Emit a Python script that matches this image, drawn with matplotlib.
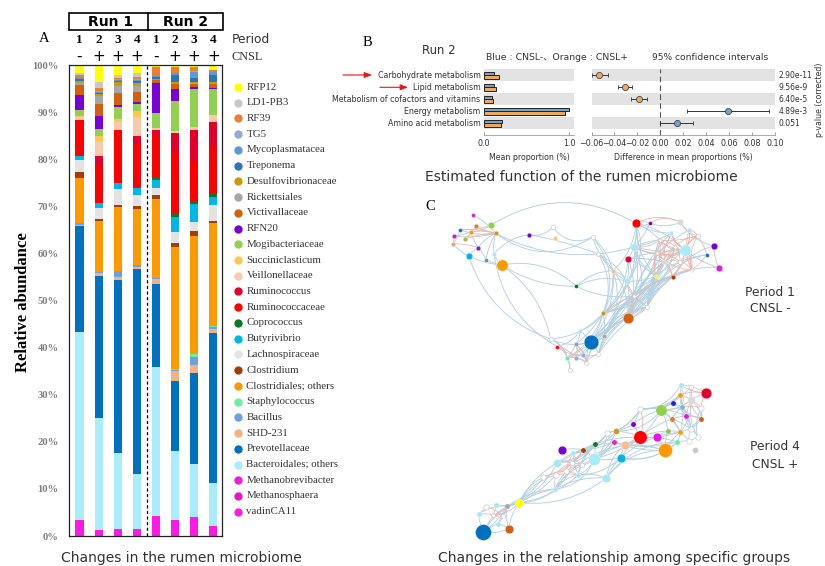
import numpy as np
import matplotlib
matplotlib.use("Agg")
import matplotlib.pyplot as plt
from matplotlib.path import Path
from matplotlib.patches import PathPatch, Rectangle

W, H = 825, 566
SERIF = "Liberation Serif"
SANS = ["DejaVu Sans", "Noto Sans CJK JP"]
plt.rcParams["font.family"] = SANS

# ---------- Panel A data ----------
series = ["vadinCA11", "Methanosphaera", "Methanobrevibacter", "Bacteroidales; others", "Prevotellaceae",
          "SHD-231", "Bacillus", "Staphylococcus", "Clostridiales; others", "Clostridium", "Lachnospiraceae",
          "Butyrivibrio", "Coprococcus", "Ruminococcaceae", "Ruminococcus", "Veillonellaceae", "Succiniclasticum",
          "Mogibacteriaceae", "RFN20", "Victivallaceae", "Rickettsiales", "Desulfovibrionaceae", "Treponema",
          "Mycoplasmatacea", "TG5", "RF39", "LD1-PB3", "RFP12"]
series_colors = ["#ff19e6", "#e815d0", "#f01ae0", "#a9ecfb", "#0070c0", "#f4b183", "#6fa0dc", "#66f0a0", "#ff9900",
                 "#a33e0b", "#e3e3e3", "#00b8e6", "#0a7a28", "#ff0000", "#e3002b", "#f9c9ac", "#ffc84a", "#92d050",
                 "#7a00d6", "#d2600f", "#a6a6a6", "#c99a0e", "#2e75b6", "#5b9bd5", "#8faadc", "#ed7d31", "#c8c8c8",
                 "#ffff00"]
# cumulative upper edge of every layer, bottom to top
run1_p1 = [3.3, 3.3, 3.3, 43.3, 65.8, 66.1, 66.4, 66.5, 76.0, 77.3, 79.9, 80.8, 80.8, 88.4, 88.4, 89.0, 89.3, 90.5, 93.7, 95.8, 96.2, 96.7, 97.1, 97.2, 97.3, 98.0, 98.3, 100]
run1_p2 = [1.2, 1.2, 1.2, 25.0, 55.2, 55.9, 56.0, 56.0, 67.0, 67.3, 69.7, 70.8, 70.8, 78.8, 80.8, 84.0, 84.9, 86.4, 89.2, 91.8, 93.5, 94.0, 94.1, 94.3, 94.5, 95.2, 96.4, 100]
run1_p3 = [1.5, 1.5, 1.5, 17.6, 54.4, 55.1, 56.2, 56.3, 70.0, 70.3, 73.8, 75.0, 75.0, 86.3, 86.3, 88.0, 88.6, 91.2, 91.5, 94.1, 95.7, 96.5, 96.7, 96.9, 97.0, 97.3, 97.9, 100]
run1_p4 = [1.5, 1.5, 1.5, 13.2, 56.7, 57.1, 57.5, 57.5, 69.4, 70.2, 72.4, 73.9, 73.9, 83.5, 85.0, 89.0, 90.2, 91.8, 92.2, 94.3, 95.5, 96.3, 96.6, 96.9, 97.0, 97.6, 98.3, 100]
run2_p1 = [4.2, 4.2, 4.2, 35.8, 53.6, 54.7, 54.8, 54.8, 71.7, 72.4, 73.9, 75.6, 76.2, 85.0, 86.2, 86.6, 86.6, 89.9, 96.2, 96.8, 96.9, 97.0, 97.6, 97.7, 97.7, 99.6, 99.6, 100]
run2_p2 = [3.5, 3.5, 3.5, 18.0, 33.0, 35.0, 35.2, 35.5, 61.3, 62.2, 64.6, 67.7, 68.6, 81.6, 85.6, 86.1, 86.1, 92.4, 95.0, 96.0, 96.1, 96.5, 98.0, 98.4, 98.4, 99.6, 99.6, 100]
run2_p3 = [4.1, 4.1, 4.1, 15.3, 34.7, 36.4, 38.0, 38.6, 63.8, 64.7, 66.7, 70.5, 71.2, 79.5, 86.2, 86.9, 86.9, 95.0, 95.3, 96.1, 96.2, 96.5, 97.3, 98.6, 98.7, 99.7, 99.7, 100]
run2_p4 = [2.2, 2.2, 2.2, 11.3, 43.2, 44.0, 44.4, 44.6, 66.6, 67.0, 70.3, 72.1, 72.6, 82.9, 87.9, 89.4, 89.4, 94.9, 95.2, 96.1, 96.1, 96.5, 98.0, 98.5, 98.6, 99.0, 99.0, 100]
periods = ["1", "2", "3", "4", "1", "2", "3", "4"]
cnsl = ["-", "+", "+", "+", "-", "+", "+", "+"]

# ---------- Panel B data ----------
functions = ["Carbohydrate metabolism", "Lipid metabolism", "Metabolism of cofactors and vitamins",
             "Energy metabolism", "Amino acid metabolism"]
mean_minus = [0.12, 0.12, 0.09, 1.00, 0.21]
mean_plus = [0.18, 0.145, 0.105, 0.95, 0.20]
diff = [-0.0532, -0.0311, -0.0183, 0.0587, 0.0142]
ci_low = [-0.0593, -0.0366, -0.0253, 0.0232, 0.0]
ci_high = [-0.0459, -0.0250, -0.0113, 0.0947, 0.0288]
pvalues = ["2.90e-11", "9.56e-9", "6.40e-5", "4.89e-3", "0.051"]

# ---------- Panel C data (layout positions of the two networks) ----------
W_ = "#ffffff"
net1_x = [128,138,182,90,122,197,72,105,69,145,116,168,192,215,297,368,374,488,505,439,549,618,659,751,723,778,612,765,851,830,594,703,866,591,678,728,593,519,482,522,449,437,382,362,412,438,459,469,505,419,652,612,750,803,785,690,735,680]
net1_y = [74,107,106,119,125,130,138,148,162,173,198,209,192,225,134,111,143,141,192,289,242,100,100,97,129,119,171,180,168,194,207,217,233,274,259,260,384,370,456,439,424,463,470,447,503,505,495,518,492,540,350,318,215,138,240,150,170,190]
net1_r = [6,7,10,6,7,7,7,7,7,7,10,6,7,17,7,7,7,7,6,6,6,13,6,10,7,7,11,17,10,6,10,6,10,10,6,7,16,7,22,7,7,7,6,6,7,7,7,6,6,6,6,5,6,6,5,5,5,5]
net1_c = ["#e020c8","#e07b30","#8fd14f","#1f6fb8","#f39c12","#c99a1a","#c026b8","#9bbb59","#e8a87c","#7a1fc7","#00b5e2","#5b8fc7","#a8e8f5","#ff9900","#7a00d6",W_,"#fcc57a",W_,W_,"#0a7a28","#f5b979","#ff0000","#7a00d6","#d9d9d9","#a8e8f5","#a8e8f5","#a8e8f5","#a8ecf8","#7a00d6","#1f6fb8","#e3002b","#a8e8f5","#e020c8","#a8e8f5","#ffff00","#a33e0b","#d2600f","#c99a1a","#0070c0","#a6a6a6","#a8e8f5","#8c9fd0","#ff0000",W_,"#66f09a","#85aee8","#85aee8",W_,W_,W_,W_,W_,W_,W_,W_,W_,W_,W_]
net1_blue = [(2,21,.3),(5,17,-.34),(5,26,-.2),(14,15,-.3),(15,17,-.4),(14,18,.05),(12,14,.2),(13,19,.25),(13,19,-.15),(10,43,-.25),(13,43,.2),(12,42,-.25),(19,33,.2),(19,20,.2),(19,51,-.15),(10,13,-.1),(20,21,-.2),(18,33,.15),(17,33,-.2),(20,36,.2),(21,26,.1),(26,33,.2),(33,37,.15),(33,36,.1),(37,38,.1),(36,38,-.1),(36,39,-.15),(37,39,.1),(34,36,.2),(34,33,.1),(26,34,-.2),(21,34,-.2),(30,34,.1),(30,33,.1),(35,36,-.2),(35,50,-.1),(50,48,-.2),(54,36,-.2),(50,39,-.2),(51,37,.1),(36,48,-.2),(35,39,-.25),(54,48,-.3),(34,38,.1),(20,37,.15),(20,33,.2),(26,51,.15),(21,27,.15),(26,27,-.1),
             (24,36,-.15),(24,37,.2),(25,36,-.25),(27,36,-.25),(27,50,-.2),(29,36,-.3),(29,50,-.3),(28,35,-.2),(32,54,-.1),(28,32,-.1),(32,27,.1),(23,28,-.2),(22,26,.1),(22,23,-.2),(21,24,-.15),(21,22,-.3),(21,55,.1),(26,55,.1),(26,24,-.1),(26,57,-.1),(30,31,.1),(30,57,.1),(34,37,.2),(34,50,-.1),(35,37,.15),(35,51,-.15),(31,36,-.2),(31,50,-.2),(31,37,.25),(31,51,.2),(55,36,.25),(57,36,.2),(57,51,.15),(55,51,.15),(56,36,.2),(56,50,-.1),(52,50,-.2),(54,50,-.25),(33,50,-.2),(33,38,.15),(26,36,.3),(30,36,.2),(30,37,.2),(21,37,.3),(21,33,.3),(21,30,.2),(20,38,.2),(20,39,.25),(18,37,.25),(17,37,.3),(18,20,.1),(17,20,.15),(50,38,-.2),(50,48,-.1),(36,47,-.25),(35,48,-.3),(34,39,-.15),(51,39,-.15),(51,38,.1),(37,40,.15),(37,41,.1),(37,43,.2),(37,44,.2),(39,47,-.2),(39,46,-.1),(38,47,-.1),(38,45,.1),(38,44,.1),(41,44,.1),(42,44,.2),(41,47,.25),(43,44,.25),(43,49,.3),(44,49,.2),(40,42,.2),(38,43,.2),(40,48,.2),(40,41,.2),
             (3,5,-.15),(4,6,.1),(2,4,.15),(1,7,.1),(3,8,.1),(6,8,.1),(0,5,.1),(9,11,.1),(10,9,.1),(9,5,.15),(11,5,.1),(12,5,.1),(10,8,.1),(9,4,.1),(13,11,.1),(13,12,.15)]
net1_red = [(1,5,-.1),(2,3,.1),(3,5,.1),(4,5,.1),(4,7,.15),(6,5,-.1),(7,5,.1),(8,9,.1),(27,24,.2),(27,31,-.2),(27,52,.2),(27,25,-.2),(27,35,.2),(27,55,.2),(27,56,.2),(27,57,.2),(27,53,.2),(27,54,.15),(24,57,.2),(55,57,-.2),(55,31,.2),(57,31,-.2),(57,35,.2),(56,52,.2),(56,54,.2),(53,54,-.2),(53,55,.1),(25,54,-.2),(52,35,.2),(34,57,.2),(34,55,.2),(23,53,-.2),(33,51,-.2),(51,36,.2),(36,50,-.2),(37,51,.1),(38,41,.1),(41,45,.2),(41,47,.2),(41,46,-.2),(42,45,.2),(42,46,-.2),(44,47,.2),(45,47,.2),(46,48,-.2),(46,47,.1),(44,46,.1),(47,48,.2),(36,35,.3),
            (56,57,.2),(56,31,.2),(56,53,.2),(57,52,.2),(57,54,-.2),(31,52,.2),(31,35,.1),(55,56,.2),(24,56,.2),(24,27,-.2),(25,27,.2),(25,53,.2),(53,29,.1),(52,54,.2),(29,54,.1),(35,54,.2),(26,55,-.2),(26,57,-.15),(34,31,.1),(34,56,.15),(55,27,-.3),(57,27,-.3),(53,27,-.2),(54,27,-.3),(21,23,.25),(21,22,.35),(22,23,.3)]

net2_x = [70,147,178,142,107,77,56,100,128,114,285,250,287,319,355,292,340,306,369,335,365,403,404,439,482,461,442,469,494,519,540,540,591,616,604,623,636,638,661,652,665,679,660,662,693,694,737,724,724,692,713,686,705]
net2_y = [487,476,398,409,406,410,433,436,437,462,357,322,315,304,315,278,250,240,239,280,286,267,222,324,263,217,189,183,225,163,117,202,200,241,119,183,147,100,186,216,111,138,75,45,50,90,69,113,146,178,200,213,240]
net2_r = [24,13,12,8,8,8,8,6,7,8,8,8,8,8,8,12,8,13,8,7,7,18,8,13,13,8,8,9,13,8,8,20,13,21,17,8,8,8,8,8,8,8,8,8,7,12,16,8,8,8,8,8,9]
net2_c = ["#0070c0","#d2600f","#ffff00","#a6a6a6","#a8e8f5",W_,"#a8e8f5",W_,W_,"#a8e8f5","#a8e8f5",W_,W_,W_,"#a8e8f5","#a8e8f5","#a8e8f5","#7a00d6","#a33e0b",W_,W_,"#a8ecf8","#0a7a28","#a8e8f5","#00b5e2","#e020c8",W_,"#c99a1a","#f9bd91","#7a00d6",W_,"#ff0000","#ee10e8","#ff9900","#8fd14f","#9bbb59","#e07b30","#2020e8","#f39c12","#66f09a","#85aee8","#e020c8","#f39c12","#a8e8f5",W_,"#d9d9d9","#e3002b",W_,"#d2600f",W_,W_,W_,"#c8c8c8"]
net2_blue = [(0,2,.2),(0,3,.2),(1,3,.15),(0,1,-.15),(1,2,.15),(2,10,.1),(2,10,-.2),(3,10,.15),(3,11,-.15),(2,12,.2),(3,15,-.2),(2,14,-.15),(2,23,-.2),(10,23,.15),(10,14,.2),(10,21,-.3),(14,23,.15),(14,21,-.2),(14,24,-.2),(15,22,-.25),(16,26,-.25),(16,27,-.2),(18,26,-.2),(18,22,.1),(19,22,-.2),(20,25,-.2),(21,24,-.1),(21,26,-.2),(21,27,-.15),(22,25,-.1),(22,31,.1),(21,31,-.1),(23,31,.3),(24,33,-.2),(24,31,.1),(25,28,.1),(25,33,-.1),(26,30,-.25),(27,30,-.15),(27,34,-.25),(27,31,.1),(28,33,.1),(28,31,-.1),(28,39,-.1),(29,34,.1),(29,30,-.1),(30,43,-.3),(30,44,-.25),(31,34,-.1),(31,38,-.1),(32,33,.1),(33,39,-.1),(33,38,.1),(34,36,.1),(34,41,.1),(34,40,-.1),(34,45,-.2),(34,42,-.1),(37,41,.1),(40,48,-.2),(40,49,.2),(42,38,.15),(42,49,-.15),(43,40,.2),(45,50,-.2),(47,50,-.2),(48,51,-.3),(45,38,.2),(36,49,.1),(44,48,-.3),(24,39,-.25),(15,26,-.2),(28,38,.05),(31,39,.1),
             (6,3,.2),(4,3,.1),(0,6,.1),(0,9,.1),(0,3,-.1),(3,9,.1),(9,1,.1),(2,11,.2),(2,15,.15),(3,12,-.15),(10,19,-.2),(10,13,.1),(10,20,.15),(14,20,.1),(14,22,.2),(15,16,-.1),(16,22,-.1),(17,18,.1),(18,25,-.1),(20,22,.1),(21,22,-.1),(21,25,-.1),(22,26,-.2),(23,24,.1),(25,26,.2),(26,27,.1),(27,29,-.1),(29,31,.1),(30,34,.1),(31,36,.1),(31,35,.1),(32,35,.1),(33,35,.1),(34,35,.1),(34,38,.1),(35,38,.1),(36,38,.1),(38,39,.1),(38,49,.1),(38,51,.1),(39,51,.1),(49,50,.2),(50,51,.1),(41,49,.1),(48,49,.1),(47,48,.1),(45,48,.2),(42,40,.1),(43,42,.1),(43,44,.1),(40,41,.1),(37,40,.1),(36,40,.1),(36,41,.1),(30,42,-.2),(30,37,-.1),(24,28,.1),(14,16,.1),(24,32,.1),(21,28,.1),(23,33,.25),(10,33,.35),(23,39,.25)]
net2_red = [(4,7,.1),(5,8,.15),(6,7,.15),(7,8,-.15),(3,7,.1),(5,6,.1),(9,8,.15),(3,8,.1),(11,13,.15),(12,19,.2),(13,16,.15),(13,20,.2),(15,19,.2),(16,18,.1),(16,20,-.15),(18,19,.15),(19,20,.2),(12,18,-.15),(12,14,.1),(13,14,.1),(20,21,.1),(18,21,.1),(15,18,.1),(11,19,-.1),(10,12,.1),(2,7,.2),(30,31,.2),(42,46,.15),(43,46,-.15),(44,46,.1),(45,46,.1),(44,45,.1),(42,45,.1),(40,45,.1),(41,45,.1),(37,42,.15),(45,47,.1),(34,37,.1),(47,48,.1),(46,47,-.15),(41,48,.15),(40,47,.1)]


def axes_px(x0, y0, x1, y1):
    """Axes spanning the given page-pixel box (y counted from the top)."""
    return fig.add_axes([x0 / W, 1 - y1 / H, (x1 - x0) / W, (y1 - y0) / H])


fig = plt.figure(figsize=(W / 100, H / 100), dpi=100, facecolor="white")
page = axes_px(0, 0, W, H)
page.set_xlim(0, W)
page.set_ylim(H, 0)
page.axis("off")

# ---------- Panel A ----------
ax = axes_px(68.5, 65.3, 222.3, 536)
ax.set_facecolor("none")
bars = np.array([run1_p1, run1_p2, run1_p3, run1_p4, run2_p1, run2_p2, run2_p3, run2_p4])
xpos = np.arange(8)
bottom = np.zeros(8)
for j, col in enumerate(series_colors):
    ax.bar(xpos, bars[:, j] - bottom, bottom=bottom, width=0.42, color=col, linewidth=0)
    bottom = bars[:, j]
ax.set_xlim(-0.575, 7.47)
ax.set_ylim(0, 100)
ax.set_xticks([])
ax.set_yticks(np.arange(0, 101, 10))
ax.set_yticklabels([f"{v}%" for v in range(0, 101, 10)], family=SERIF, fontsize=7.6, fontweight="bold", color="#7f7f7f")
ax.tick_params(axis="y", length=0, pad=7)
for s in ax.spines.values():
    s.set_linewidth(0.9)
    s.set_color("#222222")
ax.axvline(3.53, color="black", lw=0.9, ls=(0, (2.5, 2)))
ax.set_ylabel("Relative abundance", family=SERIF, fontsize=12, fontweight="bold", va="center")
ax.yaxis.set_label_coords(-0.296, 0.496)
xt = ax.get_xaxis_transform()
for i in xpos:
    ax.text(i, 1.053, periods[i], transform=xt, ha="center", va="center", family=SERIF, fontsize=9.5, fontweight="bold")
    ax.text(i, 1.0185, cnsl[i], transform=xt, ha="center", va="center", fontsize=11)

page.add_patch(Rectangle((69, 12.7), 153.5, 17.5, fill=False, ec="black", lw=1.2))
page.plot([147.7, 147.7], [12.7, 30.2], color="black", lw=1.2)
page.text(111, 22, "Run 1", ha="center", va="center", fontsize=10, fontweight="bold")
page.text(186, 22, "Run 2", ha="center", va="center", fontsize=10, fontweight="bold")
page.text(232, 39.5, "Period", va="center", fontsize=8.8, color="#333333")
page.text(232, 57, "CNSL", va="center", family=SERIF, fontsize=8.8, color="#333333")
page.text(44, 38, "A", ha="center", va="center", family=SERIF, fontsize=10.5)
legend_y = np.linspace(87, 511.7, len(series))
for yy, name, col in zip(legend_y, series[::-1], series_colors[::-1]):
    page.scatter([238], [yy], s=36, color=col, linewidths=0)
    page.text(246.5, yy, name, va="center", family=SERIF, fontsize=7.8, color="#333333")
page.text(181.5, 558, "Changes in the rumen microbiome", ha="center", va="center", fontsize=10, color="#333333")

# ---------- Panel B ----------
rows = np.arange(5)[::-1]
axl = axes_px(484, 69.3, 574, 134.5)
axr = axes_px(591.5, 69.3, 775, 134.5)
for a in (axl, axr):
    a.set_ylim(-0.933, 4.5)
    a.set_yticks([])
    for side in ("top", "left", "right"):
        a.spines[side].set_visible(False)
    a.spines["bottom"].set_linewidth(0.5)
    a.spines["bottom"].set_color("#888888")
    a.tick_params(axis="x", labelsize=5.8, length=2.5, width=0.5, color="#777777", direction="in", pad=3.5, labelcolor="#333333")
    for r in rows[::2]:
        a.axhspan(r - 0.487, r + 0.487, color="#e3e3e3", lw=0, zorder=0)
axl.set_xlim(0, 1.055)
axl.set_xticks([0, 1])
axl.set_xticklabels(["0.0", "1.0"])
axl.barh(rows + 0.14, mean_minus, height=0.3, color="#6ea6d0", edgecolor="#222222", linewidth=0.7, zorder=3)
axl.barh(rows - 0.14, mean_plus, height=0.3, color="#f0aa55", edgecolor="#222222", linewidth=0.7, zorder=3)
axl.set_xlabel("Mean proportion (%)", fontsize=5.7, labelpad=3.2, color="#333333")
axr.set_xlim(-0.06, 0.10)
ticks = [-0.06, -0.04, -0.02, 0, 0.02, 0.04, 0.06, 0.08, 0.10]
axr.set_xticks(ticks)
axr.set_xticklabels(["\u22120.06", "\u22120.04", "\u22120.02", "0.00", "0.02", "0.04", "0.06", "0.08", "0.10"])
axr.set_xlabel("Difference in mean proportions (%)", fontsize=5.7, labelpad=3.2, color="#333333")
axr.axvline(0, color="#555555", lw=0.8, ls=(0, (5, 3)), zorder=1)
for r, d, lo, hi in zip(rows, diff, ci_low, ci_high):
    col = "#6ea6d0" if d > 0 else "#f0aa55"
    axr.errorbar([d], [r], xerr=[[d - lo], [hi - d]], fmt="o", ms=4.4, mfc=col, mec="#444444", mew=0.6,
                 ecolor="#333333", elinewidth=0.7, capsize=1.6, capthick=0.7, zorder=3)
for r, name, p in zip(rows, functions, pvalues):
    axl.text(-0.04, r, name, ha="right", va="center", fontsize=5.7, color="#333333", clip_on=False)
    axr.text(1.02, r, p, transform=axr.get_yaxis_transform(), ha="left", va="center", fontsize=5.5, color="#333333")
page.text(823.5, 100, "p-value (corrected)", rotation=90, ha="right", va="center", fontsize=5.6, color="#333333")
page.text(367, 43, "B", ha="center", va="center", family=SERIF, fontsize=10.5)
page.text(439, 50, "Run 2", ha="center", va="center", fontsize=8.4, color="#333333")
page.text(486, 57, "Blue : CNSL-\u3001Orange : CNSL+", va="center", fontsize=6.7, color="#333333")
page.text(652, 57.5, "95% confidence intervals", va="center", fontsize=6.6, color="#333333")
page.text(581.5, 177, "Estimated function of the rumen microbiome", ha="center", va="center", fontsize=10, color="#333333")
for x0, x1, yy in [(343, 372, 75), (380, 408, 87.3)]:
    page.annotate("", xy=(x1, yy), xytext=(x0, yy),
                  arrowprops=dict(arrowstyle="-|>,head_length=0.45,head_width=0.17", color="#ee1111", lw=0.8, shrinkA=0, shrinkB=0))


# ---------- Panel C ----------
def draw_network(box, xs, ys, rs, cs, blue, red):
    n = axes_px(*box)
    n.set_facecolor("none")
    n.set_xlim(0, (box[2] - box[0]) * 3)
    n.set_ylim((box[3] - box[1]) * 3, 0)
    n.axis("off")
    for edges, col, lw in ((blue, "#b4d0e0", 0.65), (red, "#e8b4ac", 0.55)):
        for a, b, rad in edges:
            xa, ya, xb, yb = xs[a], ys[a], xs[b], ys[b]
            cx = (xa + xb) / 2 + rad * (yb - ya)
            cy = (ya + yb) / 2 - rad * (xb - xa)
            path = Path([(xa, ya), (cx, cy), (xb, yb)], [Path.MOVETO, Path.CURVE3, Path.CURVE3])
            n.add_patch(PathPatch(path, fc="none", ec=col, lw=lw, zorder=1, capstyle="round"))
    px_to_pt = 72 / 100 / 3
    for x, y, r, c in zip(xs, ys, rs, cs):
        white = c == W_
        n.scatter([x], [y], s=(2 * r * px_to_pt) ** 2, color=c, zorder=3,
                  edgecolors="#cccccc" if white else "white", linewidths=0.5 if white else 0.25)


draw_network((430, 190, 750, 375), net1_x, net1_y, net1_r, net1_c, net1_blue, net1_red)
draw_network((460, 370, 740, 550), net2_x, net2_y, net2_r, net2_c, net2_blue, net2_red)
page.text(430, 207, "C", ha="center", va="center", family=SERIF, fontsize=10.5)
page.text(770, 292, "Period 1", ha="center", va="center", fontsize=8.8, color="#333333")
page.text(770, 309, "CNSL -", ha="center", va="center", fontsize=8.8, color="#333333")
page.text(775, 447, "Period 4", ha="center", va="center", fontsize=8.8, color="#333333")
page.text(775, 465, "CNSL +", ha="center", va="center", fontsize=8.8, color="#333333")
page.text(614, 558, "Changes in the relationship among specific groups", ha="center", va="center", fontsize=10, color="#333333")

fig.savefig("out.png", dpi=100, facecolor="white")
